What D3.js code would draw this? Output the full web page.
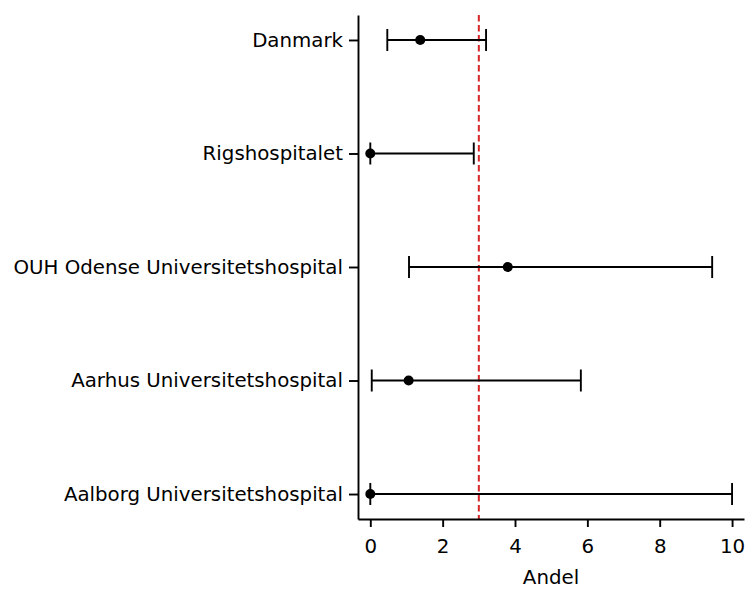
<!DOCTYPE html>
<html>
<head>
<meta charset="utf-8">
<script src="https://cdn.jsdelivr.net/npm/d3@7"></script>
<style>
  body { margin: 0; background: #fff; }
  text { font-family: "DejaVu Sans", sans-serif; }
</style>
</head>
<body>
<svg id="chart" width="747" height="589"></svg>
<script>
// forest plot data (andel, with lower/upper bounds)
const hospitals = ['Danmark', 'Rigshospitalet', 'OUH Odense Universitetshospital',
                   'Aarhus Universitetshospital', 'Aalborg Universitetshospital'];
const estimate = [1.38, 0, 3.8, 1.06, 0];
const lower = [0.47, 0, 1.07, 0.04, 0];
const upper = [3.2, 2.86, 9.45, 5.82, 10];
const reference = 3;
const xTicks = [0, 2, 4, 6, 8, 10];

const svg = d3.select('#chart');
const plotLeft = 358, plotRight = 744, plotTop = 15, plotBottom = 519;
const fontSize = '19.8px';
const lw = 1.9;

const x = d3.scaleLinear().domain([-0.34, 10.33]).range([plotLeft, plotRight]);
const y = d3.scaleLinear().domain([-0.22, 4.22]).range([plotTop, plotBottom]);

const rows = hospitals.map((name, i) => ({
    name, i, est: estimate[i], lo: lower[i], hi: upper[i]
}));

// reference line
svg.append('line')
    .attr('x1', x(reference)).attr('x2', x(reference))
    .attr('y1', plotTop).attr('y2', plotBottom)
    .attr('stroke', '#d62728')
    .attr('stroke-width', 2)
    .attr('stroke-dasharray', '6.5,3.5');

// error bars
const g = svg.append('g');
g.selectAll('line.bar')
    .data(rows)
    .enter()
    .append('line')
    .attr('class', 'bar')
    .attr('x1', d => x(d.lo)).attr('x2', d => x(d.hi))
    .attr('y1', d => y(d.i)).attr('y2', d => y(d.i))
    .attr('stroke', '#000').attr('stroke-width', lw);

['lo', 'hi'].forEach(k => {
    g.selectAll('line.cap-' + k)
        .data(rows)
        .enter()
        .append('line')
        .attr('class', 'cap-' + k)
        .attr('x1', d => x(d[k])).attr('x2', d => x(d[k]))
        .attr('y1', d => y(d.i) - 11).attr('y2', d => y(d.i) + 11)
        .attr('stroke', '#000').attr('stroke-width', lw);
});

g.selectAll('circle')
    .data(rows)
    .enter()
    .append('circle')
    .attr('cx', d => x(d.est))
    .attr('cy', d => y(d.i))
    .attr('r', 5)
    .attr('fill', '#000');

// axes
const xAxis = svg.append('g')
    .attr('transform', `translate(0,${plotBottom})`)
    .call(d3.axisBottom(x).tickValues(xTicks).tickSize(8).tickPadding(12).tickSizeOuter(0));

const yAxis = svg.append('g')
    .attr('transform', `translate(${plotLeft},0)`)
    .call(d3.axisLeft(y).tickValues(d3.range(hospitals.length))
        .tickFormat(i => hospitals[i]).tickSize(9).tickPadding(6).tickSizeOuter(0));

[xAxis, yAxis].forEach(a => {
    a.select('.domain').attr('stroke', '#000').attr('stroke-width', lw);
    a.selectAll('.tick line').attr('stroke', '#000').attr('stroke-width', lw);
    a.selectAll('.tick text').attr('fill', '#000').style('font-size', fontSize);
});

svg.append('text')
    .attr('x', (plotLeft + plotRight) / 2)
    .attr('y', 584)
    .attr('text-anchor', 'middle')
    .style('font-size', fontSize)
    .text('Andel');
</script>
</body>
</html>
